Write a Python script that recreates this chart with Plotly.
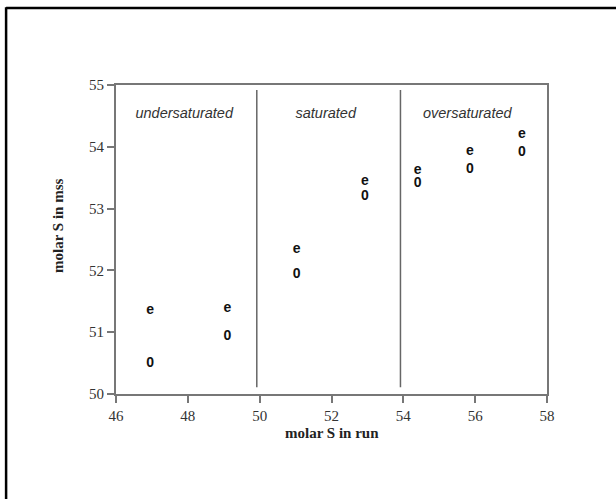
import plotly.graph_objects as go

# data
run_x = [46.95, 49.1, 51.03, 52.93, 54.4, 55.85, 57.3]
mss_e = [51.35, 51.39, 52.34, 53.44, 53.61, 53.92, 54.2]
mss_0 = [50.5, 50.93, 51.94, 53.2, 53.4, 53.64, 53.9]
region_labels = ["undersaturated", "saturated", "oversaturated"]
region_x = [47.9, 51.84, 55.78]
region_y = [54.52, 54.52, 54.52]
boundaries = [49.92, 53.92]

fig = go.Figure()
fig.add_trace(go.Scatter(x=run_x, y=mss_e, mode="text", text=["<b>e</b>"] * len(run_x),
                         textfont=dict(family="Liberation Sans", size=14, color="#111"),
                         textposition="middle center", showlegend=False))
fig.add_trace(go.Scatter(x=run_x, y=mss_0, mode="text", text=["<b>0</b>"] * len(run_x),
                         textfont=dict(family="Liberation Sans", size=14, color="#111"),
                         textposition="middle center", showlegend=False))
fig.add_trace(go.Scatter(x=region_x, y=region_y, mode="text", text=["<i>%s</i>" % t for t in region_labels],
                         textfont=dict(family="Liberation Sans", size=14.5, color="#333"),
                         textposition="middle center", showlegend=False))

for b in boundaries:
    fig.add_shape(type="line", x0=b, x1=b, y0=50.11, y1=54.92, xref="x", yref="y",
                  line=dict(color="#666", width=1.5))

# outer frame (top and left lines)
fig.add_shape(type="line", xref="paper", yref="paper", x0=-0.255, x1=1.3, y0=1.249, y1=1.249,
              line=dict(color="black", width=2.5))
fig.add_shape(type="line", xref="paper", yref="paper", x0=-0.255, x1=-0.255, y0=1.252, y1=-0.5,
              line=dict(color="black", width=2.5))

axis_common = dict(showgrid=False, zeroline=False, showline=True, linecolor="#777", linewidth=2,
                   mirror=True, ticks="outside", ticklen=7, tickcolor="#777", tickwidth=1.5,
                   tickfont=dict(family="Liberation Serif", size=15, color="#333"))

fig.update_xaxes(range=[46, 58], tickvals=[46, 48, 50, 52, 54, 56, 58], **axis_common)
fig.update_yaxes(range=[50, 55], tickvals=[50, 51, 52, 53, 54, 55], **axis_common)

fig.add_annotation(text="<b>molar S in run</b>", xref="paper", yref="paper", x=0.5, y=(394 - 433) / 309,
                   xanchor="center", yanchor="middle",
                   showarrow=False, font=dict(family="Liberation Serif", size=15, color="#222"))
fig.add_annotation(text="<b>molar S in mss</b>", xref="paper", yref="paper", x=(58 - 116) / 431,
                   y=(394 - 226) / 309, xanchor="center", yanchor="middle", textangle=-90, showarrow=False,
                   font=dict(family="Liberation Serif", size=15, color="#222"))

fig.update_layout(width=616, height=499, margin=dict(l=116, r=69, t=85, b=105),
                  paper_bgcolor="white", plot_bgcolor="white", showlegend=False)

fig.write_html("out.html")
